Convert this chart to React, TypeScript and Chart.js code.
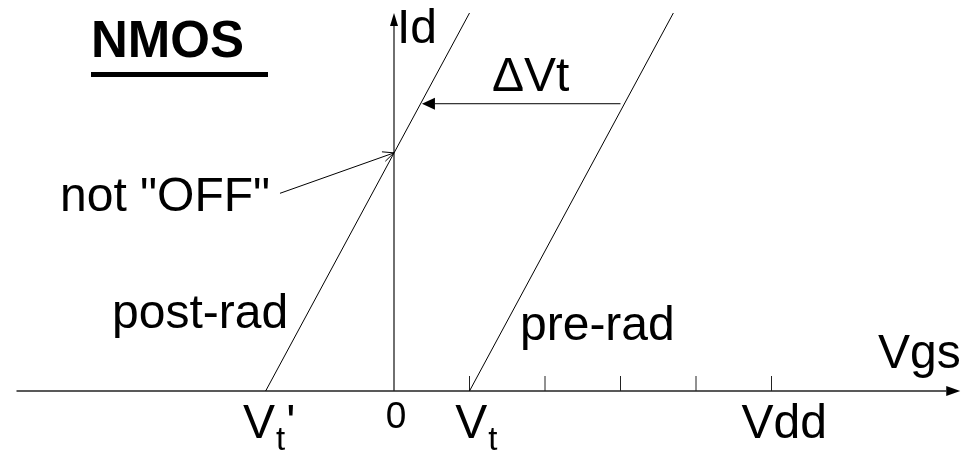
import React, { useEffect, useRef } from "react";
import { Chart, registerables } from "chart.js";

Chart.register(...registerables);

// ---- data ----
const postRadVgs = [-1.7, 1.0];
const postRadId = [0, 10];
const preRadVgs = [1.0, 3.7];
const preRadId = [0, 10];
const vgsAxisRange = [-5, 7.5];
const idAxisRange = [0, 10];
const vgsTickValues = [1, 2, 3, 4, 5];
const tickLabelValues = [-1.7, 0, 1, 5];
const tickLabelMain = ["V", "0", "V", "Vdd"];
const tickLabelSub = ["t", "", "t", ""];
const tickLabelSuffix = ["'", "", "", ""];
const deltaVtLevel = 7.6; // Id level of the ΔVt arrow
const deltaVtFrom = 3.0;
const deltaVtTo = 0.37;
const notOffFrom = [-1.51, 5.23];
const notOffTo = [0, 6.3];

const FONT = '"Liberation Sans", Arial, Helvetica, sans-serif';
const f = (size: number, bold = false) => `${bold ? "bold " : ""}${size}px ${FONT}`;

function filledArrow(ctx: CanvasRenderingContext2D, x0: number, y0: number, x1: number, y1: number, len: number, half: number) {
  const dx = x1 - x0, dy = y1 - y0;
  const L = Math.hypot(dx, dy);
  const ux = dx / L, uy = dy / L;
  const bx = x1 - ux * len, by = y1 - uy * len;
  ctx.beginPath();
  ctx.moveTo(x0, y0);
  ctx.lineTo(bx, by);
  ctx.stroke();
  ctx.beginPath();
  ctx.moveTo(x1, y1);
  ctx.lineTo(bx - uy * half, by + ux * half);
  ctx.lineTo(bx + uy * half, by - ux * half);
  ctx.closePath();
  ctx.fill();
}

function openArrow(ctx: CanvasRenderingContext2D, x0: number, y0: number, x1: number, y1: number, len: number, half: number) {
  const dx = x1 - x0, dy = y1 - y0;
  const L = Math.hypot(dx, dy);
  const ux = dx / L, uy = dy / L;
  const bx = x1 - ux * len, by = y1 - uy * len;
  ctx.beginPath();
  ctx.moveTo(x0, y0);
  ctx.lineTo(x1, y1);
  ctx.stroke();
  ctx.beginPath();
  ctx.moveTo(bx - uy * half, by + ux * half);
  ctx.lineTo(x1, y1);
  ctx.lineTo(bx + uy * half, by - ux * half);
  ctx.stroke();
}

const diagramPlugin = {
  id: "diagram",
  beforeDatasetsDraw(chart: any) {
    const { ctx, scales } = chart;
    const x = scales.x, y = scales.y;
    const px = (v: number) => x.getPixelForValue(v);
    const py = (v: number) => y.getPixelForValue(v);
    ctx.save();
    ctx.strokeStyle = "#222";
    ctx.fillStyle = "#000";
    ctx.lineWidth = 1.3;
    // horizontal axis (Vgs)
    filledArrow(ctx, px(vgsAxisRange[0]), py(0), px(vgsAxisRange[1]), py(0), 14, 5);
    // vertical axis (Id)
    filledArrow(ctx, px(0), py(idAxisRange[0]), px(0), py(idAxisRange[1]), 13, 4);
    // ticks
    ctx.lineWidth = 1;
    vgsTickValues.forEach((v) => {
      ctx.beginPath();
      ctx.moveTo(px(v), py(0));
      ctx.lineTo(px(v), py(0) - 15);
      ctx.stroke();
    });
    ctx.restore();
  },
  afterDatasetsDraw(chart: any) {
    const { ctx, scales } = chart;
    const x = scales.x, y = scales.y;
    const px = (v: number) => x.getPixelForValue(v);
    const py = (v: number) => y.getPixelForValue(v);
    ctx.save();
    ctx.strokeStyle = "#000";
    ctx.fillStyle = "#000";
    ctx.lineWidth = 1;
    // ΔVt arrow
    filledArrow(ctx, px(deltaVtFrom), py(deltaVtLevel), px(deltaVtTo), py(deltaVtLevel), 13, 6);
    // not OFF arrow
    openArrow(ctx, px(notOffFrom[0]), py(notOffFrom[1]), px(notOffTo[0]), py(notOffTo[1]), 11, 5);

    ctx.textBaseline = "alphabetic";
    ctx.textAlign = "left";
    // title
    ctx.font = f(51, true);
    ctx.fillText("NMOS", 91, 57);
    ctx.fillRect(91, 72, 177, 5);

    ctx.font = f(48);
    ctx.fillText("Id", px(0) + 3, 43);
    ctx.fillText("\u0394Vt", 492, 91);
    ctx.fillText('not "OFF"', 60, 211);
    ctx.fillText("post-rad", 112, 328);
    ctx.fillText("pre-rad", 520, 340);
    ctx.fillText("Vgs", 878, 368);

    // tick labels below the axis
    const base = py(0) + 47;
    const offsets = [-22.7, 2, -14.3, -30];
    tickLabelValues.forEach((v, i) => {
      const main = tickLabelMain[i];
      if (main === "0") {
        ctx.font = f(37);
        ctx.textAlign = "center";
        ctx.fillText(main, px(v) + offsets[i], py(0) + 37);
        ctx.textAlign = "left";
        return;
      }
      let cx = px(v) + offsets[i];
      ctx.font = f(48);
      ctx.fillText(main, cx, base);
      cx += ctx.measureText(main).width + 1;
      if (tickLabelSub[i]) {
        ctx.font = f(33);
        ctx.fillText(tickLabelSub[i], cx, base + 12);
        cx += ctx.measureText(tickLabelSub[i]).width + 1;
      }
      if (tickLabelSuffix[i]) {
        ctx.font = f(48);
        ctx.fillText(tickLabelSuffix[i], cx, base);
      }
    });
    ctx.restore();
  },
};

export default function App() {
  const ref = useRef<HTMLCanvasElement | null>(null);
  useEffect(() => {
    if (!ref.current) return;
    const chart = new Chart(ref.current, {
      type: "line",
      data: {
        datasets: [
          {
            label: "post-rad",
            data: postRadVgs.map((v, i) => ({ x: v, y: postRadId[i] })),
            borderColor: "#000",
            borderWidth: 1,
            pointRadius: 0,
            tension: 0,
            clip: false as any,
          },
          {
            label: "pre-rad",
            data: preRadVgs.map((v, i) => ({ x: v, y: preRadId[i] })),
            borderColor: "#000",
            borderWidth: 1,
            pointRadius: 0,
            tension: 0,
            clip: false as any,
          },
        ],
      },
      options: {
        animation: false,
        responsive: false,
        maintainAspectRatio: false,
        devicePixelRatio: 1,
        events: [],
        layout: { padding: { left: 16.5, right: 2.75, top: 13, bottom: 60 } },
        plugins: { legend: { display: false }, tooltip: { enabled: false }, title: { display: false } },
        scales: {
          x: { type: "linear", min: vgsAxisRange[0], max: vgsAxisRange[1], display: false },
          y: { type: "linear", min: idAxisRange[0], max: idAxisRange[1], display: false },
        },
      },
      plugins: [diagramPlugin],
    });
    return () => chart.destroy();
  }, []);
  return (
    <div style={{ position: "fixed", left: 0, top: 0, width: 963, height: 451, background: "#fff" }}>
      <canvas ref={ref} width={963} height={451} style={{ width: 963, height: 451, display: "block" }} />
    </div>
  );
}
